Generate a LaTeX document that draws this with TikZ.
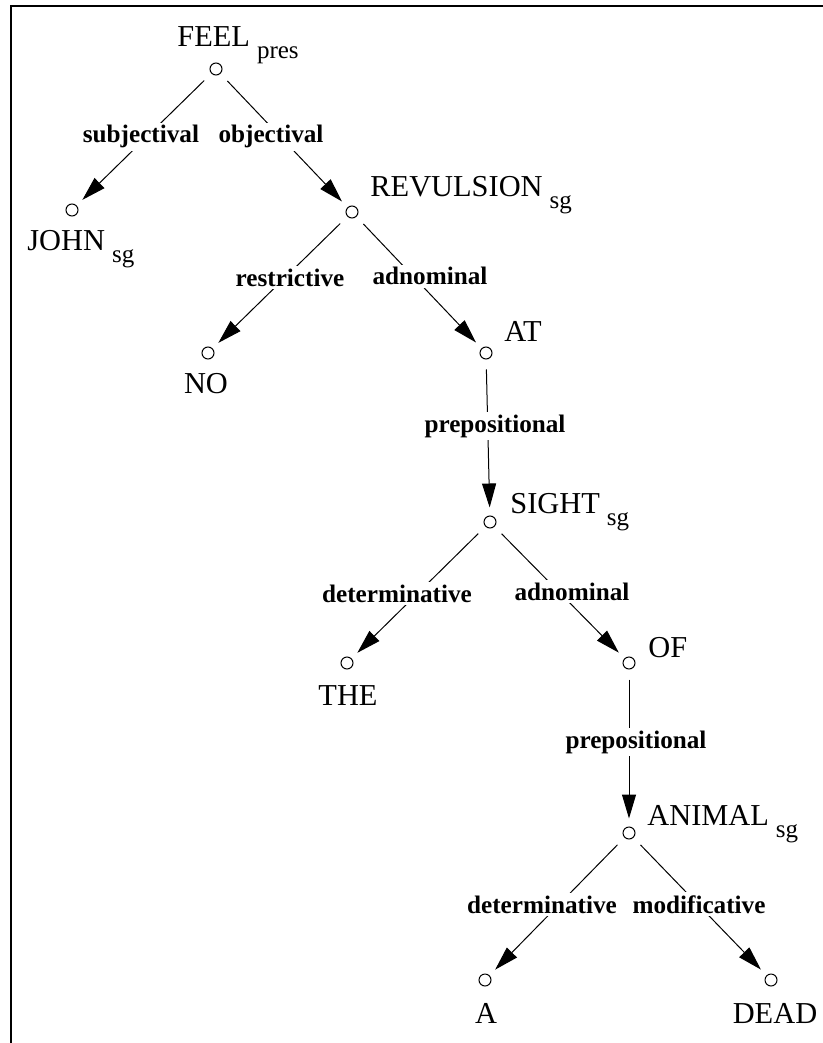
\documentclass[tikz,border=0pt]{standalone}
\usepackage{fontspec}
\setmainfont{Liberation Serif}
\usetikzlibrary{arrows.meta}
\newcommand{\wsub}[1]{\hspace{3.5pt}\raisebox{-6pt}{\fontsize{12.5pt}{14pt}\selectfont #1}}

\begin{document}
\begin{tikzpicture}[x=0.5pt,y=-0.5pt,
        word/.style={inner sep=0pt,font=\fontsize{15.2pt}{18pt}\selectfont},
        rel/.style={fill=white,inner sep=1.5pt,anchor=base,font=\bfseries\fontsize{12.6pt}{15pt}\selectfont},
        vertex/.style={draw,circle,line width=0.5pt,minimum size=6pt,inner sep=0pt},
        dep/.style={line width=0.5pt,-{Triangle[length=12pt,width=7pt]},shorten <=5pt,shorten >=4pt}]
        \useasboundingbox (0,0) rectangle (823,1043);
        \draw [line width=1pt] (11,1043) -- (11,6) -- (823,6);
        % vertices
        \node [vertex] (feel) at (216,69) {};
        \node [vertex] (john) at (72,210) {};
        \node [vertex] (revulsion) at (352,212) {};
        \node [vertex] (no) at (208,353) {};
        \node [vertex] (at) at (486,353) {};
        \node [vertex] (sight) at (490,522) {};
        \node [vertex] (the) at (347,663) {};
        \node [vertex] (of) at (629,663) {};
        \node [vertex] (animal) at (629,833) {};
        \node [vertex] (a) at (485,980) {};
        \node [vertex] (dead) at (771,980) {};
        % words
        \node [word,anchor=base west] (feelw) at (177,47) {FEEL\wsub{pres}};
        \node [word,anchor=base west] (johnw) at (27,250) {JOHN\wsub{sg}};
        \node [word,anchor=base west] (revulsionw) at (370,197) {REVULSION\wsub{sg}};
        \node [word,anchor=base] (now) at (206,393) {NO};
        \node [word,anchor=base west] (atw) at (504,341) {AT};
        \node [word,anchor=base west] (sightw) at (510,513) {SIGHT\wsub{sg}};
        \node [word,anchor=base] (thew) at (348,705) {THE};
        \node [word,anchor=base west] (ofw) at (648,657) {OF};
        \node [word,anchor=base west] (animalw) at (647,825) {ANIMAL\wsub{sg}};
        \node [word,anchor=base] (aw) at (486,1023) {A};
        \node [word,anchor=base] (deadw) at (775,1023) {DEAD};
        % dependencies
        \draw [dep] (feel) -- (john);
        \draw [dep] (feel) -- (revulsion);
        \draw [dep] (revulsion) -- (no);
        \draw [dep] (revulsion) -- (at);
        \draw [dep] (at) -- (sight);
        \draw [dep] (sight) -- (the);
        \draw [dep] (sight) -- (of);
        \draw [dep] (of) -- (animal);
        \draw [dep] (animal) -- (a);
        \draw [dep] (animal) -- (dead);
        % relation labels
        \node [rel] (subj) at (141,143) {subjectival};
        \node [rel] (obj) at (271,143) {objectival};
        \node [rel] (restr) at (290,286) {restrictive};
        \node [rel] (adnom1) at (430,285) {adnominal};
        \node [rel] (prep1) at (495,432) {prepositional};
        \node [rel] (det1) at (397,602) {determinative};
        \node [rel] (adnom2) at (572,600) {adnominal};
        \node [rel] (prep2) at (636,748) {prepositional};
        \node [rel] (det2) at (542,913) {determinative};
        \node [rel] (modif) at (699,913) {modificative};
    \end{tikzpicture}
\end{document}
